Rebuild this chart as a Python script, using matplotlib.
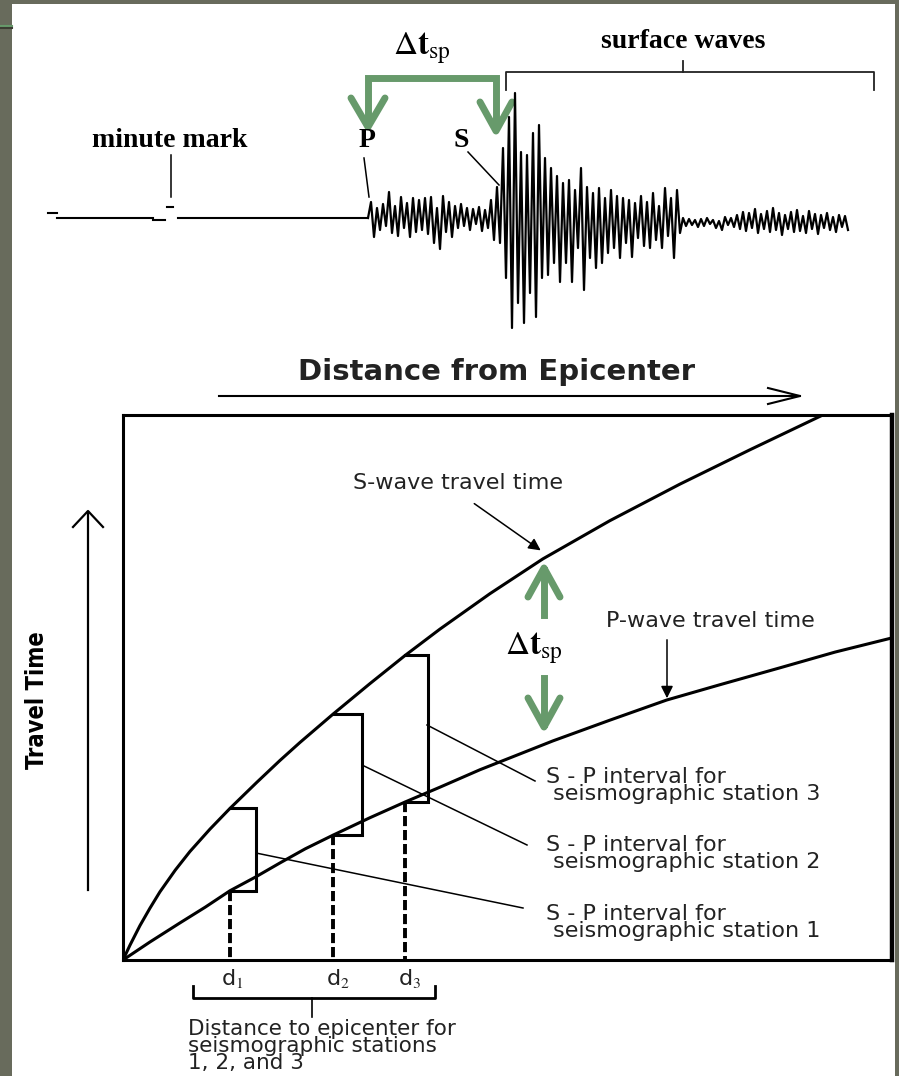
import numpy as np
import matplotlib.pyplot as plt
from matplotlib.patches import Rectangle

plt.rcParams['mathtext.fontset'] = 'stix'

W, H = 899, 1076

# seismogram amplitude (px above baseline), one sample every 3 px
trace_p = [0, 16, -19, 10, -12, 14, -8, 26, -15, 12, -18, 21, -10, 15, -19, 20,
           -14, 18, -12, 20, -16, 21, -25, 10, -31, 22, -14, 16, -19, 12, -10, 14,
           -8, 10, -12, 9, -6, 11, -13, 8, -10, 18, -22]
trace_s = [31, -25, 70, -60, 101, -110, 125, -85, 66, -105, 63, -75, 85, -99, 93,
           -60, 60, -57, 50, -45, 42, -64]
trace_decay = [35, -45, 38, -64, 28, -30, 50, -72, 31, -40, 25, -50, 30, -45, 20,
               -35, 28, -30, 22, -40, 20, -25, 18, -39, 15, -20, 22, -28, 16, -30,
               25, -22, 12, -30, 30, -18, 20, -40, 28, -15]
trace_tail = [0, -8, -1, -7, -2, -9, -1, -8, 0, -6, -2, -10, -3, -12, 1, -7, 0, -9,
              3, -11, 6, -13, 5, -10, 9, -15, 4, -11, 7, -14, 10, -12, 5, -17, 3, -11,
              6, -14, 8, -13, 2, -15, 7, -11, 4, -16, 3, -10, 5, -12, 1, -14, 3, -9,
              2, -12]
trace = trace_p + trace_s + trace_decay + trace_tail
# quiet record before the P arrival: (start, end, level)
quiet = [(48, 57, 5), (57, 153, 0), (153, 165, -2), (167, 173, 11), (178, 368, 0)]

# travel time curves (distance, time in % of the box)
s_dist = [0, 0.9, 2.2, 3.5, 4.8, 6.8, 8.7, 11.3, 13.9, 17.4, 20.4, 23.0, 27.3,
          32.1, 36.7, 41.2, 47.7, 54.6, 63.3, 72.4, 81.5, 91.0]
s_time = [0, 2.7, 6.3, 9.5, 12.5, 16.5, 19.9, 24.0, 27.8, 32.6, 36.6, 39.9, 45.1,
          50.7, 55.9, 60.7, 67.2, 73.6, 80.6, 87.3, 93.6, 100]
p_dist = [0, 3.5, 7.4, 10.7, 13.9, 17.2, 20.4, 23.7, 27.3, 32.1, 36.7, 41.2, 46.4,
          51.6, 55.9, 63.3, 70.7, 77.6, 85.4, 92.6, 100]
p_time = [0, 3.3, 6.8, 9.7, 12.7, 15.2, 17.8, 20.4, 22.9, 26.1, 29.0, 31.7, 34.9,
          37.8, 40.2, 44.0, 47.7, 50.5, 53.6, 56.5, 59.1]
station_dist = [13.9, 27.3, 36.7]
station_s = [27.8, 45.1, 55.9]
station_p = [12.7, 22.9, 29.0]
station_names = ['d$_1$', 'd$_2$', 'd$_3$']
bracket_w = [3.4, 3.8, 2.9]

green = '#679a6b'
fig = plt.figure(figsize=(W / 100, H / 100), dpi=100, facecolor='#686b5c')

# pixel overlay for the drawing decorations
ax = fig.add_axes([0, 0, 1, 1])
ax.set_xlim(0, W)
ax.set_ylim(H, 0)
ax.axis('off')
ax.add_patch(Rectangle((12, 4), 883, H, color='white', lw=0))
ax.plot([0, 12], [26, 26], color=green, lw=1.5)
ax.plot([0, 12], [28, 28], color='#3b3d33', lw=1.5)

# ---------- seismogram ----------
ax_s = fig.add_axes([0, 1 - 340 / H, 1, 340 / H])
ax_s.set_xlim(0, W)
ax_s.set_ylim(218 - 340, 218)
ax_s.axis('off')
ax_s.patch.set_alpha(0)
t = 368 + 3 * np.arange(len(trace))
ax_s.plot(t, trace, color='black', lw=1.6)
for a, b, lev in quiet:
    ax_s.plot([a, b], [lev, lev], color='black', lw=1.5)

serif = dict(family='Liberation Serif', fontweight='bold', fontsize=20, ha='center', va='baseline')
ax.text(170, 147, 'minute mark', **serif)
ax.text(367, 147, 'P', **serif)
ax.text(461, 147, 'S', **serif)
ax.text(683, 48, 'surface waves', **serif)
ax.plot([171, 171], [155, 197], color='black', lw=1.1)
ax.plot([364, 369], [158, 197], color='black', lw=1.1)
ax.plot([468, 499], [152, 185], color='black', lw=1.1)
ax.plot([506, 506, 874, 874], [90, 72, 72, 90], color='#222222', lw=1.3)
ax.plot([683, 683], [72, 61], color='#222222', lw=1.3)

# green S-P bracket on the seismogram
ax.plot([368, 368, 496, 496], [124, 78, 78, 128], color=green, lw=5,
        solid_joinstyle='miter', solid_capstyle='butt')
ax.plot([351, 368, 385], [98, 127, 98], color=green, lw=5, solid_capstyle='round')
ax.plot([480, 496, 512], [102, 131, 102], color=green, lw=5, solid_capstyle='round')
ax.text(422, 55, r'$\Delta\mathbf{t}_{\mathrm{sp}}$', fontsize=24, ha='center', va='baseline')

# ---------- travel time diagram ----------
ax_t = fig.add_axes([123 / W, 1 - 960 / H, 769 / W, 545 / H])
ax_t.set_xlim(0, 100)
ax_t.set_ylim(0, 100)
ax_t.set_xticks([])
ax_t.set_yticks([])
ax_t.patch.set_alpha(0)
for sp in ax_t.spines.values():
    sp.set_linewidth(2.2)
ax_t.spines['right'].set_linewidth(3.2)

ax_t.plot(s_dist, s_time, color='black', lw=2.2)
ax_t.plot(p_dist, p_time, color='black', lw=2.2)
for d, ts, tp, w in zip(station_dist, station_s, station_p, bracket_w):
    ax_t.plot([d, d + w, d + w, d], [ts, ts, tp, tp], color='black', lw=2.2,
              solid_joinstyle='miter')
    ax_t.plot([d, d], [tp, 0], color='black', lw=2.8, dashes=(2.6, 1.0))

sans = dict(family='DejaVu Sans', color='#222222')
ax.text(497, 380, 'Distance from Epicenter', fontsize=21, fontweight='bold',
        ha='center', va='baseline', **sans)
ax.plot([219, 800], [396, 396], color='black', lw=1.5)
ax.plot([768, 800, 768], [388, 396, 404], color='black', lw=1.5)

ax.text(37, 700, 'Travel Time', family=['Liberation Sans Narrow', 'DejaVu Sans'],
        fontweight='bold', fontstretch='condensed', fontsize=17, rotation=90,
        ha='center', va='center')
ax.plot([88, 88], [512, 890], color='black', lw=1.6)
ax.plot([73, 88, 103], [527, 511, 527], color='black', lw=1.6)

ax.text(458, 489, 'S-wave travel time', fontsize=16, ha='center', va='baseline', **sans)
ax.annotate('', xy=(543, 552), xytext=(472, 502),
            arrowprops=dict(arrowstyle='-|>', color='black', lw=1.1, mutation_scale=18))
ax.text(710, 627, 'P-wave travel time', fontsize=16, ha='center', va='baseline', **sans)
ax.annotate('', xy=(667, 701), xytext=(667, 637),
            arrowprops=dict(arrowstyle='-|>', color='black', lw=1.1, mutation_scale=18))

# green arrows between the curves
ax.plot([544, 544], [615, 570], color=green, lw=5)
ax.plot([528, 544, 560], [597, 568, 597], color=green, lw=5, solid_capstyle='round')
ax.plot([544, 544], [678, 724], color=green, lw=5)
ax.plot([528, 544, 560], [698, 727, 698], color=green, lw=5, solid_capstyle='round')
ax.text(534, 655, r'$\Delta\mathbf{t}_{\mathrm{sp}}$', fontsize=24, ha='center', va='baseline')

# S - P interval labels (y = baseline of the second line)
labels_y = [800, 868, 937]
leader_from = [(427, 725), (362, 765), (256, 853)]
leader_to = [(535, 781), (527, 845), (523, 908)]
for i, (y0, p0, p1) in enumerate(zip(labels_y, leader_from, leader_to)):
    ax.plot([p0[0], p1[0]], [p0[1], p1[1]], color='black', lw=1.1)
    ax.text(546, y0, 'S - P interval for\n seismographic station %d' % (3 - i),
            fontsize=16, ha='left', va='baseline', linespacing=0.82, **sans)

for d, name in zip([232, 338, 410], station_names):
    ax.text(d, 985, name, fontsize=16, ha='center', va='baseline', **sans)
ax.plot([193, 193, 435, 435], [986, 998, 998, 986], color='black', lw=2)
ax.plot([312, 312], [998, 1017], color='black', lw=1.2)
ax.text(188, 1069, 'Distance to epicenter for\nseismographic stations\n1, 2, and 3',
        fontsize=15.5, ha='left', va='baseline', linespacing=0.8, **sans)

fig.savefig('out.png', dpi=100, facecolor=fig.get_facecolor())
